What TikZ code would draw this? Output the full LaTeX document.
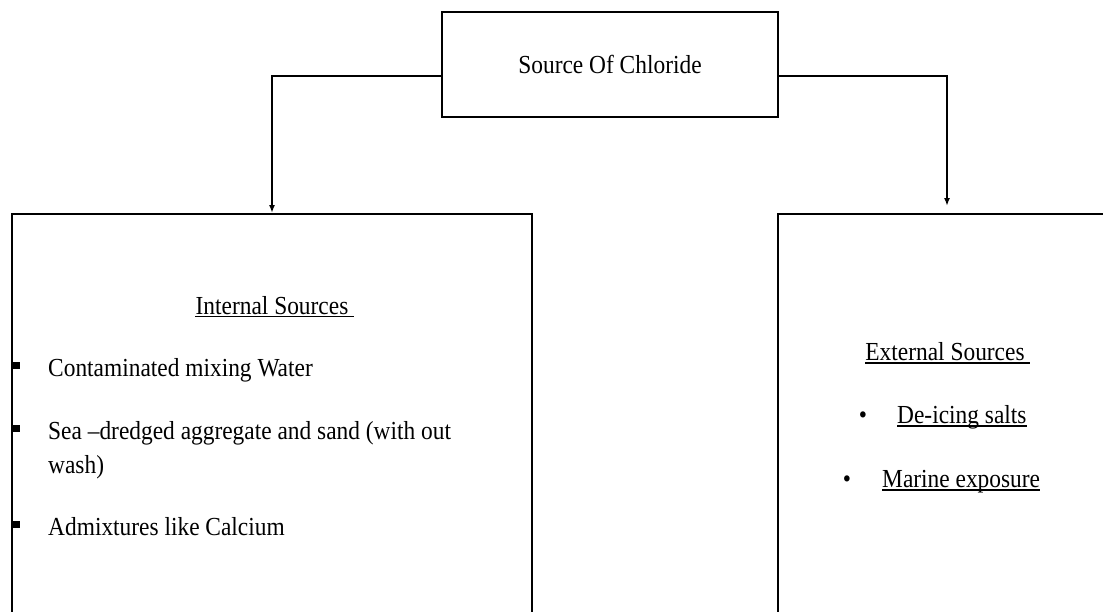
\documentclass[tikz,border=0pt]{standalone}
\usepackage{fontspec}
\newfontfamily\tfont{Liberation Serif}[FakeStretch=0.9,Ligatures=TeX]
\usetikzlibrary{arrows.meta}
\begin{document}
\begin{tikzpicture}[x=1pt,y=-1pt,
  box/.style={draw=black,line width=2pt,rectangle,inner sep=0pt,fill=white},
  txt/.style={inner sep=0pt,font=\tfont\fontsize{26}{31}\selectfont},
  sqbullet/.style={fill=black,rectangle,inner sep=0pt,minimum size=7pt},
  conn/.style={line width=1.6pt,-{Latex[length=8pt,width=6pt]}},
  uline/.style={line width=1.2pt}]
\useasboundingbox (0,0) rectangle (1103,611);
\clip (0,0) rectangle (1103,611);
\fill[white] (0,0) rectangle (1103,611);

% boxes
\node[box,minimum width=336pt,minimum height=105pt,txt] (top) at (610,64.5) {Source Of Chloride};
\node[box,minimum width=520pt,minimum height=406pt] (left) at (272,417) {};
\node[box,minimum width=338pt,minimum height=406pt] (right) at (947,417) {};

% connectors
\coordinate (tl) at ([yshift=-11.5pt]top.west);
\coordinate (tr) at ([yshift=-11.5pt]top.east);
\draw[conn] (tl) -| (left.north);
\draw[conn,shorten >=7pt] (tr) -| (right.north);

% internal sources
\node[txt,anchor=base] (ihead) at (272,314) {Internal Sources};
\draw[uline] ([yshift=-2.5pt]ihead.base west) -- ([xshift=5pt,yshift=-2.5pt]ihead.base east);

\node[txt,anchor=base west] (i1) at (48,376) {Contaminated mixing Water};
\node[txt,anchor=base west] (i2) at (48,439) {Sea –dredged aggregate and sand (with out};
\node[txt,anchor=base west] (i2b) at (48,473) {wash)};
\node[txt,anchor=base west] (i3) at (48,535) {Admixtures like Calcium};
\node[sqbullet] (b1) at (16.5,365.5) {};
\node[sqbullet] (b2) at (16.5,428.5) {};
\node[sqbullet] (b3) at (16.5,524.5) {};

% external sources
\node[txt,anchor=base] (ehead) at (945,360) {External Sources};
\draw[uline] ([yshift=-3pt]ehead.base west) -- ([xshift=5pt,yshift=-3pt]ehead.base east);

\node[txt,anchor=base] (eb1) at (863,423) {•};
\node[txt,anchor=base west] (e1) at (897,423) {De-icing salts};
\draw[uline] ([yshift=-3pt]e1.base west) -- ([yshift=-3pt]e1.base east);

\node[txt,anchor=base] (eb2) at (847,487) {•};
\node[txt,anchor=base west] (e2) at (882,487) {Marine exposure};
\draw[uline] ([yshift=-3pt]e2.base west) -- ([yshift=-3pt]e2.base east);
\end{tikzpicture}
\end{document}
